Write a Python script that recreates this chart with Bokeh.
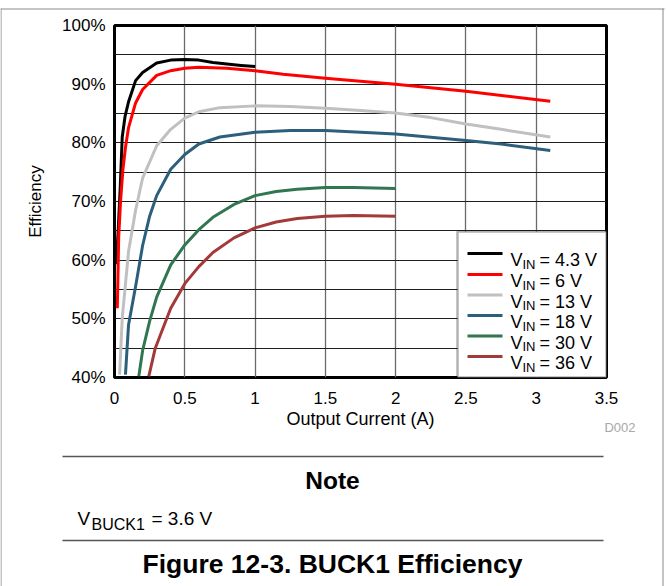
from bokeh.plotting import figure
from bokeh.models import FixedTicker, Label, BoxAnnotation, Range1d, GridBox
from bokeh.core.properties import value
from bokeh.embed import file_html
from bokeh.resources import INLINE

# ---------------- data ----------------
x_black = [0.012, 0.025, 0.04, 0.055, 0.075, 0.1, 0.15, 0.2, 0.3, 0.4, 0.5, 0.6, 0.7, 0.8, 0.9, 1.0]
y_black = [59.3, 64.5, 72.0, 81.0, 84.5, 87.0, 90.6, 92.0, 93.6, 94.1, 94.2, 94.1, 93.7, 93.45, 93.2, 93.0]

x_red = [0.02, 0.03, 0.043, 0.06, 0.078, 0.1, 0.15, 0.2, 0.3, 0.4, 0.5, 0.6, 0.8, 1.0, 1.2, 1.5, 2.0, 2.5, 3.1]
y_red = [51.8, 64.0, 70.0, 75.5, 79.2, 82.6, 86.8, 89.1, 91.5, 92.3, 92.7, 92.9, 92.7, 92.3, 91.7, 91.0, 90.0, 88.8, 87.1]

x_gray = [0.036, 0.055, 0.1, 0.15, 0.2, 0.3, 0.4, 0.5, 0.6, 0.75, 1.0, 1.25, 1.5, 1.75, 2.0, 2.25, 2.5, 2.75, 3.1]
y_gray = [40.5, 50.1, 61.5, 68.5, 74.0, 79.5, 82.3, 84.2, 85.3, 86.0, 86.3, 86.2, 85.9, 85.5, 85.1, 84.3, 83.2, 82.3, 81.0]

x_blue = [0.078, 0.1, 0.15, 0.2, 0.25, 0.3, 0.4, 0.5, 0.6, 0.75, 1.0, 1.25, 1.5, 2.0, 2.5, 2.75, 3.1]
y_blue = [40.5, 49.0, 55.5, 62.5, 67.5, 71.0, 75.5, 78.0, 79.8, 81.0, 81.8, 82.1, 82.1, 81.5, 80.4, 79.8, 78.7]

x_green = [0.173, 0.2, 0.25, 0.3, 0.4, 0.5, 0.6, 0.7, 0.85, 1.0, 1.15, 1.3, 1.5, 1.7, 2.0]
y_green = [40.2, 44.6, 49.6, 53.7, 59.2, 62.6, 65.2, 67.3, 69.5, 71.0, 71.7, 72.1, 72.4, 72.4, 72.2]

x_brown = [0.244, 0.29, 0.34, 0.4, 0.5, 0.6, 0.7, 0.85, 1.0, 1.15, 1.3, 1.5, 1.7, 2.0]
y_brown = [40.2, 45.0, 48.1, 51.8, 56.0, 58.9, 61.3, 63.8, 65.5, 66.5, 67.1, 67.5, 67.6, 67.5]

vin_labels = ["4.3", "6", "13", "18", "30", "36"]
series_x = [x_black, x_red, x_gray, x_blue, x_green, x_brown]
series_y = [y_black, y_red, y_gray, y_blue, y_green, y_brown]
colors = ["#000000", "#ff0000", "#c0c0c0", "#2b5f7c", "#2f7651", "#a33a3a"]

x_ticks = [0, 0.5, 1, 1.5, 2, 2.5, 3, 3.5]
x_tick_labels = ["0", "0.5", "1", "1.5", "2", "2.5", "3", "3.5"]
y_ticks = [40, 50, 60, 70, 80, 90, 100]
y_tick_labels = ["40%", "50%", "60%", "70%", "80%", "90%", "100%"]
y_grid = [40, 45, 50, 55, 60, 65, 70, 75, 80, 85, 90, 95, 100]

FONT = "Liberation Sans"
W, H = 666, 586

# ---------------- chart ----------------
p = figure(width=W, height=H, output_backend="svg", toolbar_location=None,
           x_range=Range1d(0, 3.5), y_range=Range1d(40, 100),
           min_border_left=114, min_border_right=60, min_border_top=25,
           min_border_bottom=H - 25 - 352)
p.background_fill_color = "white"
p.border_fill_color = None
p.outline_line_color = "black"
p.outline_line_width = 3

for ax in (p.xaxis[0], p.yaxis[0]):
    ax.axis_line_color = None
    ax.major_tick_line_color = None
    ax.minor_tick_line_color = None
    ax.major_tick_out = 0
    ax.major_tick_in = 0
    ax.major_label_text_font = FONT
    ax.major_label_text_font_size = "17px"
    ax.major_label_text_color = "black"
    ax.axis_label_text_font = FONT
    ax.axis_label_text_font_size = "17px"
    ax.axis_label_text_font_style = "normal"
    ax.axis_label_text_color = "black"

p.xaxis.ticker = FixedTicker(ticks=x_ticks)
p.xaxis.major_label_overrides = dict(zip(x_ticks, x_tick_labels))
p.xaxis.major_label_standoff = 14
p.xaxis.axis_label = "Output Current (A)"
p.xaxis.axis_label_text_font_size = "18px"
p.xaxis.axis_label_standoff = 2

p.yaxis.ticker = FixedTicker(ticks=y_ticks)
p.yaxis.major_label_overrides = dict(zip(y_ticks, y_tick_labels))
p.yaxis.major_label_standoff = 9
p.yaxis.axis_label = "Efficiency"
p.yaxis.axis_label_standoff = 14

p.xgrid.ticker = FixedTicker(ticks=x_ticks)
p.xgrid.grid_line_color = "#6a6a6a"
p.xgrid.grid_line_width = 1.3
p.ygrid.ticker = FixedTicker(ticks=y_grid)
p.ygrid.grid_line_color = "#1e1e1e"
p.ygrid.grid_line_width = 1.2

for xs, ys, c in zip(series_x, series_y, colors):
    p.line(xs, ys, line_color=c, line_width=3, line_join="round")

# frame origin in page coordinates -> screen units relative to the frame
FX, FY = 114, 377
def sx(X):
    return X - FX
def sy(Y):
    return FY - Y

def box(l, r, t, b, color):
    p.add_layout(BoxAnnotation(left=sx(l), right=sx(r), top=sy(t), bottom=sy(b),
                               left_units="screen", right_units="screen",
                               top_units="screen", bottom_units="screen",
                               fill_color=color, fill_alpha=1, line_color=None))

def label(X, Y, text, size):
    p.add_layout(Label(x=sx(X), y=sy(Y), x_units="screen", y_units="screen", text=text,
                       text_font=FONT, text_font_size=size, text_align="left",
                       text_baseline="alphabetic", text_color="black"))

# legend (drawn by hand for the subscripts)
p.add_layout(BoxAnnotation(left=sx(457), right=sx(606), top=sy(231), bottom=sy(377),
                           left_units="screen", right_units="screen",
                           top_units="screen", bottom_units="screen",
                           fill_color="white", fill_alpha=1, line_color="black", line_width=2.5))
row_y = [253, 274, 294.5, 315, 335.5, 356]
for Y, c, v in zip(row_y, colors, vin_labels):
    box(467, 502, Y - 1.5, Y + 1.5, c)
    label(510, Y + 6.5, "V", "18px")
    label(522, Y + 10.5, "IN", "13px")
    label(539, Y + 6.5, "= " + v + " V", "18px")

# ---------------- transparent overlay (page decorations, note, caption) ----------------
q = figure(width=W, height=H, output_backend="svg", toolbar_location=None,
           x_range=Range1d(0, W), y_range=Range1d(H, 0),
           x_axis_type=None, y_axis_type=None, min_border=0)
q.grid.visible = False
q.outline_line_color = None
q.background_fill_color = None
q.border_fill_color = None

if "frame_align" in p.properties():
    p.frame_align = False
    q.frame_align = False

def qtext(X, Y, text, size, bold=False, align="left", baseline="alphabetic", color="black"):
    q.text(x=[X], y=[Y], text=[text], text_font=value(FONT), text_font_size=value(size),
           text_font_style="bold" if bold else "normal", text_align=align,
           text_baseline=baseline, text_color=color)

qtext(635, 427, "D002", "13px", align="right", baseline="middle", color="#a8a8a8")

q.segment(x0=[62, 62], y0=[456, 540], x1=[603, 603], y1=[456, 540],
          line_color="#555555", line_width=1.6)
qtext(332, 480, "Note", "24.5px", bold=True, align="center", baseline="middle")
qtext(77, 518, "V", "19px")
qtext(91, 524, "BUCK1", "16px")
qtext(151, 518, "= 3.6 V", "19px")
qtext(332, 563, "Figure 12-3. BUCK1 Efficiency", "26.5px", bold=True, align="center", baseline="middle")

# outer page frame
q.segment(x0=[0, 0.5, 662.5], y0=[8.5, 8, 8], x1=[664, 0.5, 662.5], y1=[8.5, 586, 586],
          line_color="#8a8a8a", line_width=1)

layout = GridBox(children=[(p, 0, 0), (q, 0, 0)], styles={"background": "white"})

open("out.html", "w").write(file_html(layout, INLINE))
